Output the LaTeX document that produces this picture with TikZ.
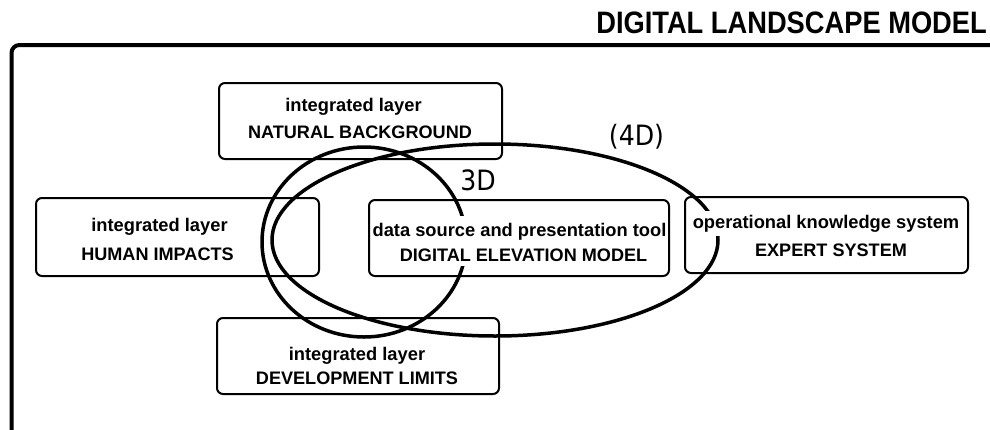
\documentclass[tikz,border=0pt]{standalone}
\usepackage{fontspec}
\setmainfont{Liberation Sans}
\newfontfamily\labfont{DejaVu Sans}
\begin{document}
\begin{tikzpicture}[x=1pt,y=-1pt,
  box/.style={draw, line width=2pt, rounded corners=6pt, inner sep=0pt},
  lc/.style={anchor=base, font=\bfseries\fontsize{18.3}{22}\selectfont, fill=white, inner xsep=1pt, inner ysep=4pt},
  uc/.style={anchor=base, font=\bfseries\fontsize{18.1}{22}\selectfont, fill=white, inner xsep=1pt, inner ysep=4pt},
  loopline/.style={line width=3.5pt},
  dimlabel/.style={anchor=base, font=\labfont\fontsize{28}{32}\selectfont, inner sep=0pt}]
\useasboundingbox (0,0) rectangle (990,429);
\clip (0,0) rectangle (990,429);
% frame
\draw[line width=4pt, rounded corners=8pt] (1010,45) -- (11.5,45) -- (11.5,445);
\node[anchor=base east, font=\bfseries\fontsize{31}{34}\selectfont, inner sep=0pt] (title) at (987,33) {\scalebox{0.88}[1]{DIGITAL LANDSCAPE MODEL}};
% boxes
\node[box, minimum width=283pt, minimum height=76pt] (nb) at (360.5,121) {};
\node[box, minimum width=283pt, minimum height=78pt] (hi) at (177.5,237) {};
\node[box, minimum width=282pt, minimum height=76pt] (dl) at (358,356) {};
\node[box, minimum width=300pt, minimum height=76pt] (dem) at (519,238) {};
\node[box, minimum width=283pt, minimum height=76pt] (es) at (826.5,235) {};
% loops
\draw[loopline] (364,242) ellipse [x radius=102pt, y radius=95pt];
\draw[loopline] (495,240) ellipse [x radius=223pt, y radius=96pt];
% texts
\node[lc] (nb1) at (353.5,111.7) {integrated layer};
\node[uc] (nb2) at (360,138.3) {NATURAL BACKGROUND};
\node[lc] (hi1) at (159.5,231.7) {integrated layer};
\node[uc] (hi2) at (157.5,260.7) {HUMAN IMPACTS};
\node[lc] (dl1) at (357,360) {integrated layer};
\node[uc] (dl2) at (357,384) {DEVELOPMENT LIMITS};
\node[lc, inner ysep=7pt] (dem1) at (519.5,236) {data source and presentation tool};
\node[uc] (dem2) at (523.5,261.7) {DIGITAL ELEVATION MODEL};
\node[lc] (es1) at (826,228) {operational knowledge system};
\node[uc] (es2) at (831,256) {EXPERT SYSTEM};
% dimension labels
\node[dimlabel] (d4) at (636.5,145) {\scalebox{0.9}[1]{(4D)}};
\node[dimlabel] (d3) at (478,190) {\scalebox{0.9}[1]{3D}};
\end{tikzpicture}
\end{document}
